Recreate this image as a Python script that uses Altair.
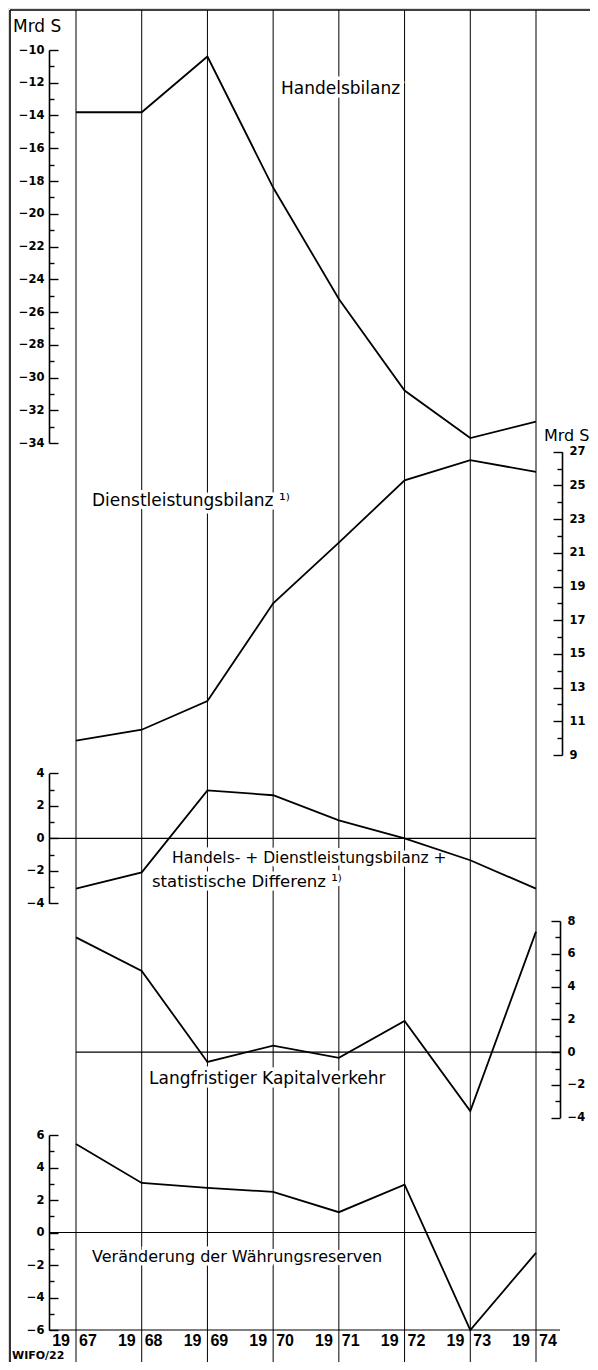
import altair as alt
import pandas as pd

# ---------------- data ----------------
years = [1967, 1968, 1969, 1970, 1971, 1972, 1973, 1974]
handelsbilanz = [-13.8, -13.8, -10.4, -18.4, -25.2, -30.8, -33.7, -32.7]
dienstleistungsbilanz = [9.85, 10.5, 12.2, 18.0, 21.6, 25.3, 26.5, 25.8]
handels_dienst_stat = [-3.1, -2.1, 2.95, 2.65, 1.1, 0.0, -1.35, -3.1]
kapitalverkehr = [7.0, 4.95, -0.6, 0.4, -0.35, 1.9, -3.6, 7.35]
waehrungsreserven = [5.45, 3.05, 2.75, 2.5, 1.25, 2.95, -6.0, -1.25]

ticks_handels = list(range(-34, -9))
ticks_dienst = list(range(9, 28))
ticks_hds = list(range(-4, 5))
ticks_kapital = list(range(-4, 9))
ticks_reserven = list(range(-6, 7))

unit = "Mrd S"
source = "WIFO/22"
label_handels = ["Handelsbilanz"]
label_dienst = ["Dienstleistungsbilanz \u00b9\u207e"]
label_hds1 = ["Handels- + Dienstleistungsbilanz +"]
label_hds2 = ["statistische Differenz \u00b9\u207e"]
label_kapital = ["Langfristiger Kapitalverkehr"]
label_reserven = ["Veränderung der Währungsreserven"]

FONT = "DejaVu Sans"
YFONT = "Liberation Sans"
W, H = 582, 1354

X = alt.Scale(domain=[1967, 1974], range=[68, 528], zero=False, nice=False)


def yscale(domain, rng):
    return alt.Scale(domain=domain, range=rng, zero=False, nice=False)


def make_axis(side, offset, values, parity):
    if parity == "even":
        test = "datum.value % 2 === 0"
    else:
        test = "datum.value % 2 !== 0"
    common = dict(
        values=values,
        tickSize={"condition": {"test": test, "value": 9}, "value": 5},
        labelExpr=f"{test} ? datum.label : ''",
        domainColor="black", domainWidth=1.6,
        tickColor="black", tickWidth=1.4,
        labelFont=FONT, labelFontSize=11.5, labelFontWeight="bold",
        labelColor="black", labelFlush=False, labelOverlap=False,
        labelBaseline="middle", labelBound=False,
        grid=False, title=None,
    )
    if side == "left":
        return alt.Axis(orient="right", offset=offset, labelAlign="right",
                        labelPadding=-14, **common)
    return alt.Axis(orient="left", offset=offset, labelAlign="left",
                    labelPadding=-16, **common)


def series_layer(values, sc, axis):
    df = pd.DataFrame({"year": years, "value": values})
    return alt.Chart(df).mark_line(color="black", strokeWidth=1.8).encode(
        x=alt.X("year:Q", scale=X, axis=None),
        y=alt.Y("value:Q", scale=sc, axis=axis),
    )


def hline(v, sc, x1, x2):
    return alt.Chart(pd.DataFrame({"v": [v]})).mark_rule(
        color="black", strokeWidth=1.2).encode(
        y=alt.Y("v:Q", scale=sc, axis=None),
        x=alt.value(x1), x2=alt.value(x2),
    )


def label(texts, x, y, size=16, align="left", weight="normal"):
    df = pd.DataFrame({"t": texts})
    halo = alt.Chart(df).mark_text(
        align=align, baseline="middle", font=FONT, fontSize=size,
        fontWeight=weight, color="white", stroke="white", strokeWidth=7,
    ).encode(text="t:N", x=alt.value(x), y=alt.value(y))
    txt = alt.Chart(df).mark_text(
        align=align, baseline="middle", font=FONT, fontSize=size,
        fontWeight=weight, color="black",
    ).encode(text="t:N", x=alt.value(x), y=alt.value(y))
    return [halo, txt]


s_handels = yscale([-34, -10], [435, 42])
s_dienst = yscale([9, 27], [747, 443.7])
s_hds = yscale([-4, 4], [895.3, 765.3])
s_kapital = yscale([-4, 8], [1109.7, 913])
s_reserven = yscale([-6, 6], [1322, 1127])

layers = []

# vertical year lines
grid = alt.Chart(pd.DataFrame({"year": years})).mark_rule(
    color="black", strokeWidth=1).encode(
    x=alt.X("year:Q", scale=X, axis=None),
    y=alt.value(2), y2=alt.value(H),
)
layers.append(grid)

# frame
frame_df = pd.DataFrame({"a": [0]})
layers.append(alt.Chart(frame_df).mark_rule(color="black", strokeWidth=1.6).encode(
    x=alt.value(2), y=alt.value(2), y2=alt.value(H)))
layers.append(alt.Chart(frame_df).mark_rule(color="black", strokeWidth=1.6).encode(
    x=alt.value(2), x2=alt.value(W), y=alt.value(2)))

# zero lines and bottom base line
layers.append(hline(0, s_hds, 41, 528))
layers.append(hline(0, s_kapital, 68, 552))
layers.append(hline(0, s_reserven, 41, 528))
layers.append(hline(-6, s_reserven, 41, 552))

# labels (with white halo breaking the grid lines)
layers += label(label_handels, 273, 81, size=17)
layers += label(label_dienst, 84, 493, size=17)
layers += label(label_hds1, 164, 850, size=15.5)
layers += label(label_hds2, 144, 874, size=16.5)
layers += label(label_kapital, 141, 1071, size=17)
layers += label(label_reserven, 84, 1249, size=16)

# series with their own axes
layers.append(series_layer(handelsbilanz, s_handels,
                           make_axis("left", -541, ticks_handels, "even")))
layers.append(series_layer(dienstleistungsbilanz, s_dienst,
                           make_axis("right", -554, ticks_dienst, "odd")))
layers.append(series_layer(handels_dienst_stat, s_hds,
                           make_axis("left", -541, ticks_hds, "even")))
layers.append(series_layer(kapitalverkehr, s_kapital,
                           make_axis("right", -552, ticks_kapital, "even")))
layers.append(series_layer(waehrungsreserven, s_reserven,
                           make_axis("left", -541, ticks_reserven, "even")))

# unit labels and source
unit_df = pd.DataFrame({"t": [unit]})
layers.append(alt.Chart(unit_df).mark_text(
    align="left", baseline="middle", font=FONT, fontSize=17, color="black").encode(
    text="t:N", x=alt.value(5), y=alt.value(19)))
layers.append(alt.Chart(unit_df).mark_text(
    align="left", baseline="middle", font=FONT, fontSize=16, color="black").encode(
    text="t:N", x=alt.value(536), y=alt.value(428)))
layers.append(alt.Chart(pd.DataFrame({"t": [source]})).mark_text(
    align="left", baseline="bottom", font=FONT, fontSize=11, fontWeight="bold",
    color="black").encode(text="t:N", x=alt.value(4), y=alt.value(H - 1)))

# year labels split by the grid line: "19|67"
yl = pd.DataFrame({"year": years})
yl["pre"] = yl["year"].astype(str).str[:2]
yl["suf"] = yl["year"].astype(str).str[2:]
layers.append(alt.Chart(yl).mark_text(
    align="right", baseline="middle", font=YFONT, fontSize=16, fontWeight="bold",
    color="black", dx=-6).encode(
    x=alt.X("year:Q", scale=X, axis=None), y=alt.value(1333), text="pre:N"))
layers.append(alt.Chart(yl).mark_text(
    align="left", baseline="middle", font=YFONT, fontSize=16, fontWeight="bold",
    color="black", dx=3).encode(
    x=alt.X("year:Q", scale=X, axis=None), y=alt.value(1333), text="suf:N"))

chart = alt.layer(*layers).resolve_scale(y="independent").properties(
    width=W, height=H, padding=0,
    autosize=alt.AutoSizeParams(type="none"),
).configure_view(strokeWidth=0).configure(background="white")

chart.save("out.html", embed_options={"renderer": "svg", "actions": False})
